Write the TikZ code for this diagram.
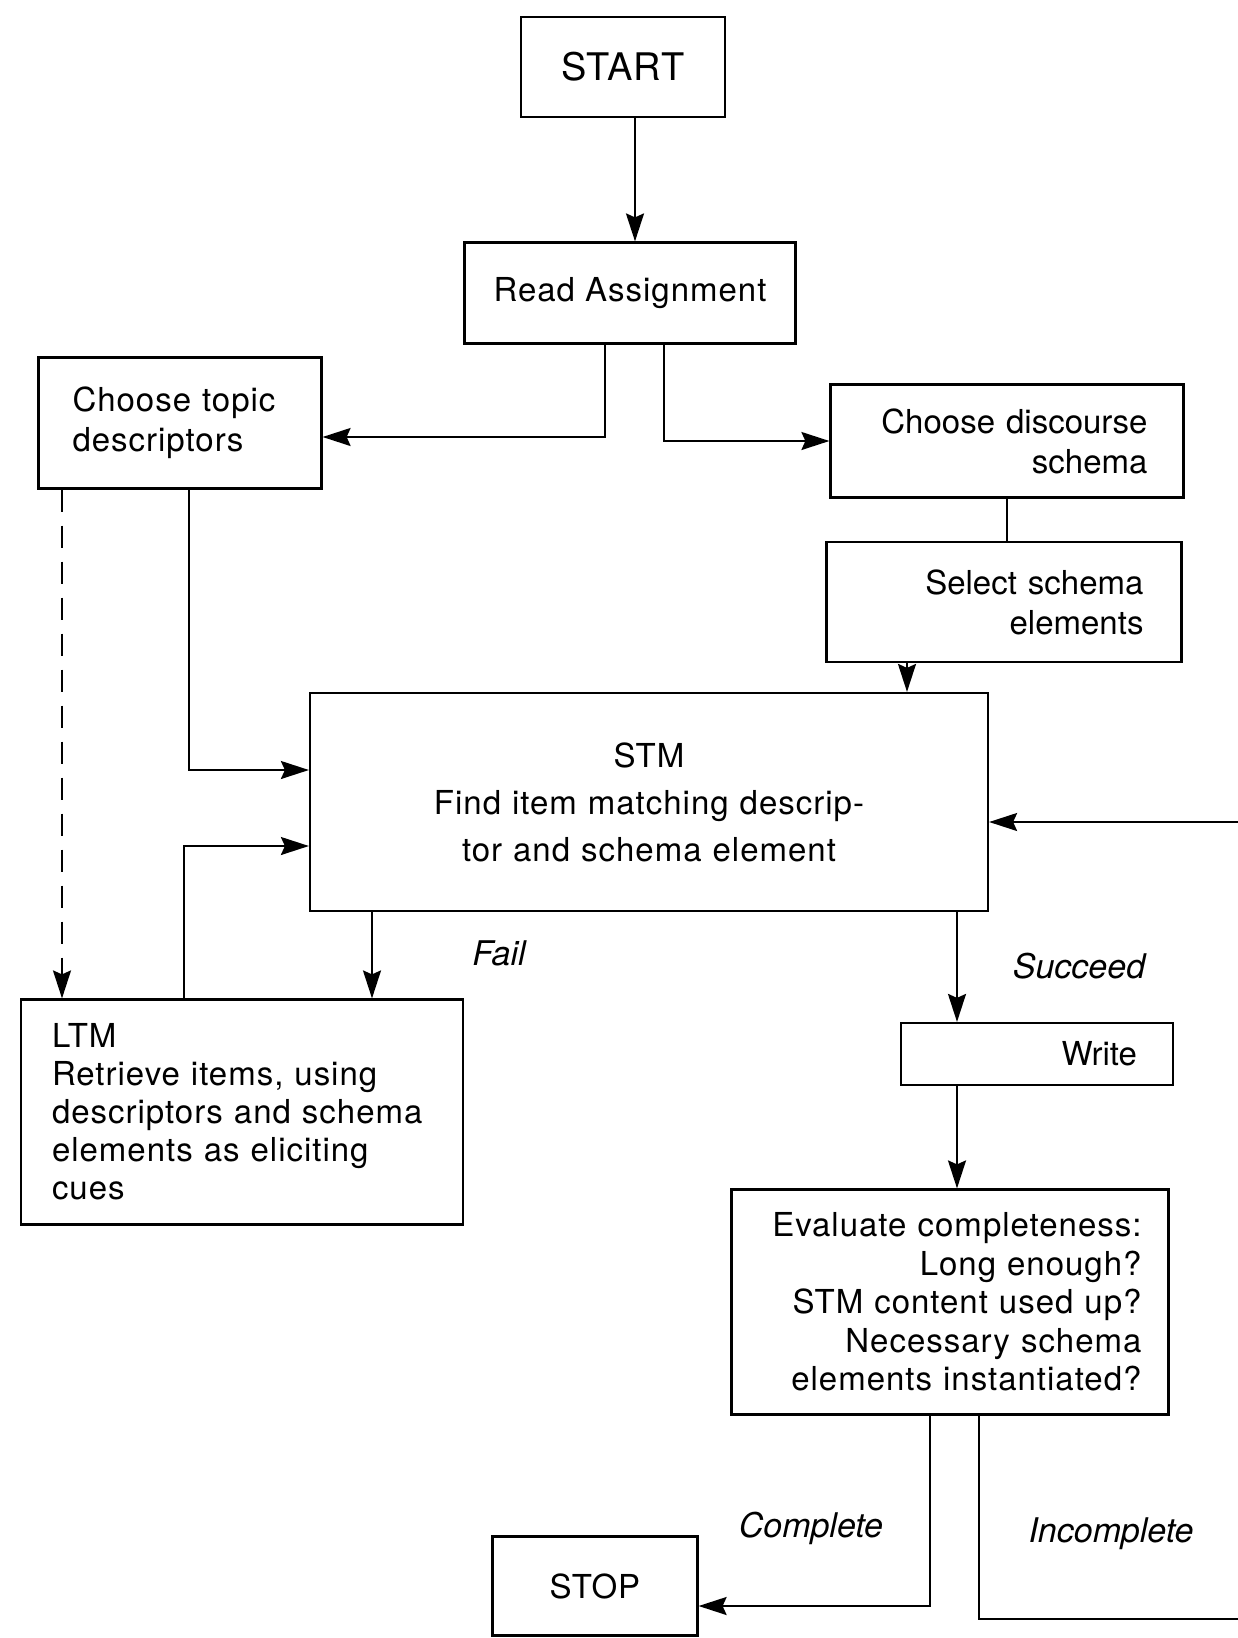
\documentclass[tikz,border=0pt]{standalone}
\usepackage{fontspec}
\setmainfont{TeX Gyre Heros}
\newfontfamily\boxfont[LetterSpace=3]{TeX Gyre Heros}
\usetikzlibrary{arrows.meta}

\tikzset{
	box/.style={draw, line width=2.2pt, minimum height=#1, inner ysep=0pt, font=\fontsize{33}{40}\selectfont},
	box/.default=100pt,
	wide/.style={font=\boxfont\fontsize{33}{#1}\selectfont},
	wide/.default=40pt,
	arr/.style={line width=2pt, -{Stealth[length=28pt,width=18pt,inset=4pt]}},
	lbl/.style={font=\fontsize{34}{40}\selectfont\itshape},
}

\begin{document}
\begin{tikzpicture}[x=1pt,y=-1pt]
	\useasboundingbox (0,0) rectangle (1238,1638);
	% boxes
	\node[box=100pt, minimum width=204pt, font=\boxfont\fontsize{38}{40}\selectfont] (start) at (623,67) {START};
	\node[box=101pt, minimum width=331pt, wide] (read) at (630,293) {Read Assignment};
	\node[box=131pt, text width=215pt, inner xsep=34pt, align=left, wide] (topic) at (180,423) {Choose topic\\descriptors};
	\node[box=113pt, text width=281pt, inner xsep=36pt, align=right] (discourse) at (1007,441) {Choose discourse\\schema};
	\node[box=120pt, text width=279pt, inner xsep=38pt, align=right] (select) at (1004,602) {Select schema\\elements};
	\node[box=218pt, text width=610pt, inner xsep=34pt, align=center, wide=47pt] (stm) at (649,802) {STM\\Find item matching descrip-\\tor and schema element};
	\node[box=225pt, text width=380pt, inner xsep=31pt, align=left, wide=38pt] (ltm) at (242,1112) {LTM\\Retrieve items, using\\descriptors and schema\\elements as eliciting\\cues};
	\node[box=62pt, text width=200pt, inner xsep=36pt, align=right] (write) at (1037,1054) {Write};
	\node[box=225pt, text width=383pt, inner xsep=27pt, align=right, wide=38.5pt] (eval) at (950,1302) {Evaluate completeness:\\Long enough?\\STM content used up?\\Necessary schema\\elements instantiated?};
	\node[box=99pt, minimum width=205pt, wide] (stop) at (595,1586) {STOP};
	% labels
	\node[lbl] (fail) at (499,953) {Fail};
	\node[lbl] (succeed) at (1079,966) {Succeed};
	\node[lbl] (complete) at (811,1528) {Complete};
	\node[lbl] (incomplete) at (1111,1534) {Incomplete};
	% loop ends at the right edge
	\coordinate (loopT) at (1238,822);
	\coordinate (loopB) at (1238,1619);
	% connectors
	\draw[arr] ([xshift=12]start.south) -- ([xshift=12]start.south |- read.north);
	\draw[arr] ([xshift=-25]read.south) |- ([yshift=-14]topic.east);
	\draw[arr] ([xshift=34]read.south) |- (discourse.west);
	\draw[line width=2pt] (discourse.south) -- (discourse.south |- select.north);
	\draw[arr] ([xshift=-97]select.south) -- ([xshift=-97]select.south |- stm.north);
	\draw[arr] ([xshift=9]topic.south) |- ([yshift=32]stm.west);
	\draw[arr, dash pattern=on 22pt off 14pt] ([xshift=-118]topic.south) -- ([xshift=-118]topic.south |- ltm.north);
	\draw[arr] ([xshift=-58]ltm.north) |- ([yshift=-44]stm.west);
	\draw[arr] ([xshift=-277]stm.south) -- ([xshift=-277]stm.south |- ltm.north);
	\draw[arr] ([xshift=308]stm.south) -- ([xshift=308]stm.south |- write.north);
	\draw[arr] ([xshift=-80]write.south) -- ([xshift=-80]write.south |- eval.north);
	\draw[arr] ([xshift=-20]eval.south) |- ([yshift=-20]stop.east);
	\draw[line width=2pt] ([xshift=29]eval.south) |- (loopB);
	\draw[arr] (loopT) -- (loopT -| stm.east);
\end{tikzpicture}
\end{document}
